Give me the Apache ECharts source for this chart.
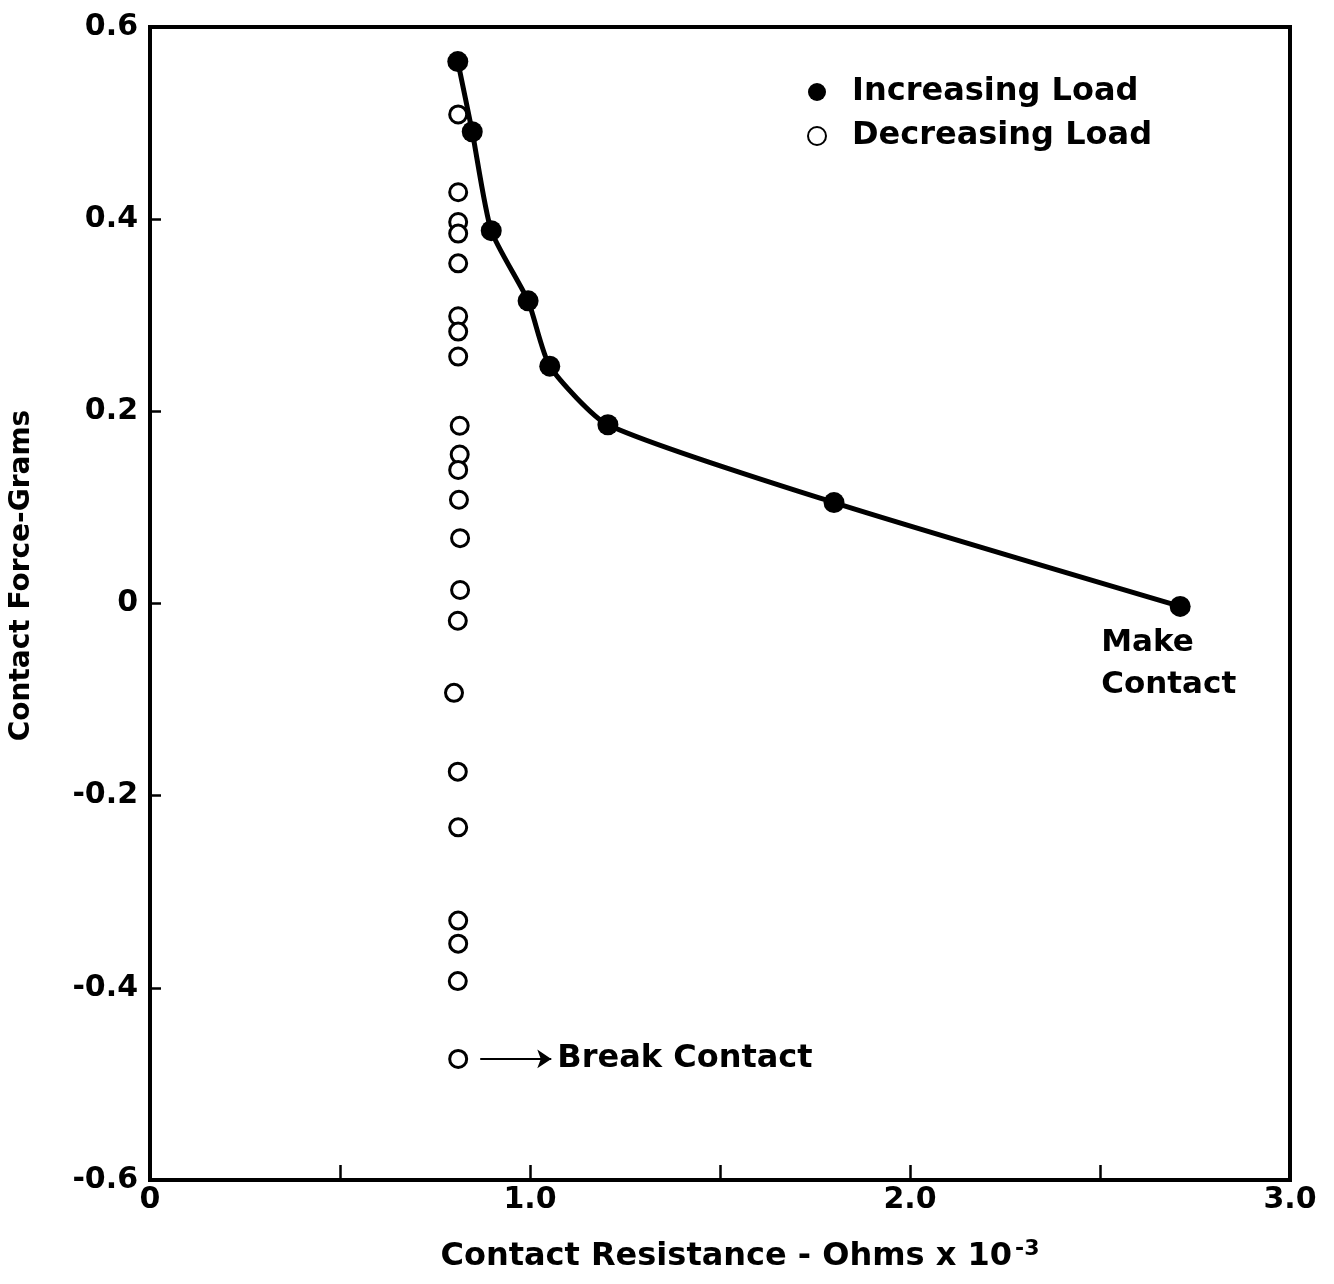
<!DOCTYPE html>
<html>
<head>
<meta charset="utf-8">
<title>Contact Force vs Contact Resistance</title>
<script src="https://cdn.jsdelivr.net/npm/echarts@6/dist/echarts.min.js"></script>
<style>
  html, body { margin: 0; padding: 0; background: #fff; }
  #chart { width: 1334px; height: 1284px; }
</style>
</head>
<body>
<div id="chart"></div>
<script>
// Increasing load (filled circles, joined by the fitted curve)
const incX = [0.81, 0.848, 0.898, 0.995, 1.052, 1.205, 1.80, 2.711];
const incY = [0.564, 0.491, 0.388, 0.315, 0.247, 0.186, 0.105, -0.003];

// Decreasing load (open circles)
const decX = [0.811, 0.811, 0.811, 0.811, 0.811, 0.811, 0.811, 0.811,
              0.815, 0.815, 0.811, 0.813, 0.816, 0.816, 0.810, 0.800, 0.810,
              0.811, 0.811, 0.811, 0.810, 0.811];
const decY = [0.509, 0.428, 0.397, 0.385, 0.354, 0.299, 0.283, 0.257,
              0.185, 0.155, 0.139, 0.108, 0.068, 0.014, -0.018, -0.093, -0.175,
              -0.233, -0.330, -0.354, -0.393, -0.474];

// Tick labels
const xTickLabels = ['0', '', '1.0', '', '2.0', '', '3.0'];
const yTickLabels = ['-0.6', '-0.4', '-0.2', '0', '0.2', '0.4', '0.6'];

const FONT = 'DejaVu Sans';
const inc = incX.map((x, i) => [x, incY[i]]);
const dec = decX.map((x, i) => [x, decY[i]]);

// Label the final (make-contact) point
inc[inc.length - 1] = {
  value: inc[inc.length - 1],
  label: {
    show: true,
    formatter: 'Make\nContact',
    position: 'bottom',
    align: 'left',
    offset: [-79, 0],
    fontFamily: FONT, fontWeight: 'bold', fontSize: 31, lineHeight: 42,
    color: '#000'
  }
};

const breakPoint = dec[dec.length - 1];

const chart = echarts.init(document.getElementById('chart'), null, { renderer: 'canvas' });

chart.setOption({
  animation: false,
  backgroundColor: '#fff',
  grid: {
    left: 147, top: 27, right: 44, bottom: 104,
    show: true, borderColor: '#000', borderWidth: 4, backgroundColor: 'transparent'
  },
  legend: {
    orient: 'vertical',
    left: 802, top: 71,
    itemWidth: 60, itemHeight: 18, itemGap: 12,
    symbolKeepAspect: true,
    textStyle: { fontFamily: FONT, fontWeight: 'bold', fontSize: 32, color: '#000' },
    data: [
      { name: 'Increasing Load', icon: 'circle' },
      { name: 'Decreasing Load', icon: 'circle' }
    ]
  },
  xAxis: {
    type: 'value', min: 0, max: 3, interval: 0.5,
    axisLine: { show: true, onZero: false, lineStyle: { color: '#000', width: 4 } },
    axisTick: { show: true, inside: true, length: 15, lineStyle: { color: '#000', width: 2.5 } },
    splitLine: { show: false },
    axisLabel: {
      margin: 5, color: '#000', fontFamily: FONT, fontWeight: 'bold', fontSize: 30,
      formatter: v => xTickLabels[Math.round(v / 0.5)] || ''
    },
    name: '{a|Contact Resistance - Ohms x 10}{s|-3}',
    nameLocation: 'middle', nameGap: 58,
    nameTextStyle: {
      padding: [0, 0, 0, 40],
      rich: {
        a: { fontFamily: FONT, fontWeight: 'bold', fontSize: 32, color: '#000' },
        s: { fontFamily: FONT, fontWeight: 'bold', fontSize: 22, color: '#000', verticalAlign: 'top', padding: [0, 0, 16, 3] }
      }
    }
  },
  yAxis: {
    type: 'value', min: -0.6, max: 0.6, interval: 0.2,
    axisLine: { show: true, onZero: false, lineStyle: { color: '#000', width: 4 } },
    axisTick: { show: true, inside: true, length: 11, lineStyle: { color: '#000', width: 2.5 } },
    splitLine: { show: false },
    axisLabel: {
      margin: 12, color: '#000', fontFamily: FONT, fontWeight: 'bold', fontSize: 30,
      formatter: v => yTickLabels[Math.round((v + 0.6) / 0.2)]
    },
    name: 'Contact Force-Grams',
    nameLocation: 'middle', nameGap: 114, nameRotate: 90,
    nameTextStyle: { fontFamily: FONT, fontWeight: 'bold', fontSize: 28, color: '#000', padding: [0, 0, 0, 56] }
  },
  series: [
    {
      name: 'Decreasing Load',
      type: 'scatter',
      data: dec,
      symbol: 'circle', symbolSize: 17,
      itemStyle: { color: '#fff', borderColor: '#000', borderWidth: 3, opacity: 1 },
      z: 2,
      markLine: {
        silent: true,
        symbol: ['none', 'arrow'], symbolSize: 14,
        lineStyle: { color: '#000', width: 2, type: 'solid', opacity: 1 },
        itemStyle: { color: '#000' },
        label: {
          show: true, position: 'end', distance: 6, formatter: 'Break Contact',
          fontFamily: FONT, fontWeight: 'bold', fontSize: 32, color: '#000'
        },
        data: [[
          { coord: [breakPoint[0] + 0.058, breakPoint[1]] },
          { coord: [breakPoint[0] + 0.245, breakPoint[1]] }
        ]]
      }
    },
    {
      name: 'Increasing Load',
      type: 'line',
      data: inc,
      smooth: 0.2,
      symbol: 'circle', symbolSize: 21, showSymbol: true,
      lineStyle: { color: '#000', width: 5 },
      itemStyle: { color: '#000', borderWidth: 0 },
      z: 3
    }
  ]
});
</script>
</body>
</html>
